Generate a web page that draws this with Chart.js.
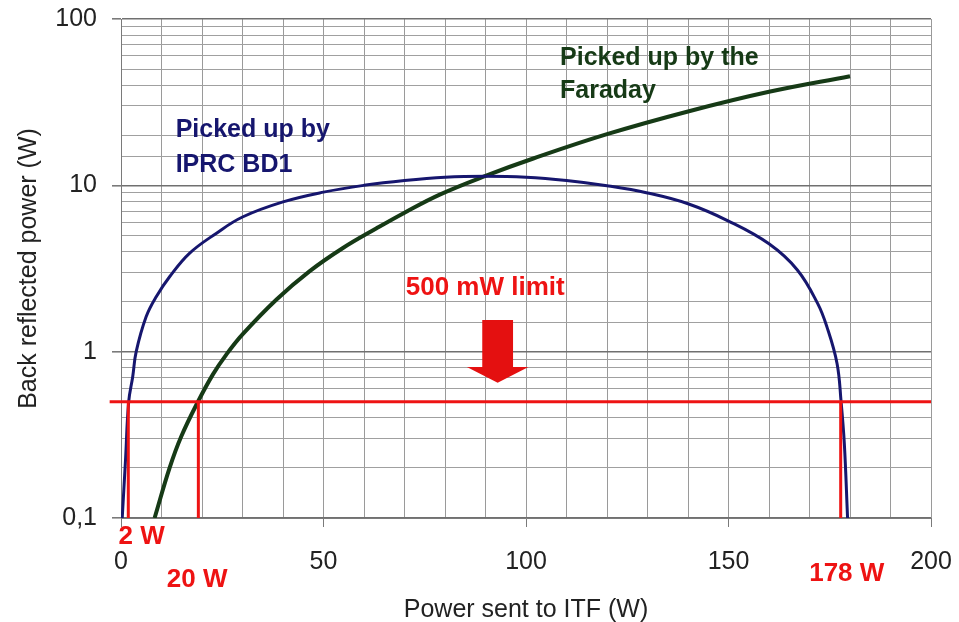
<!DOCTYPE html>
<html><head><meta charset="utf-8">
<script src="https://cdn.jsdelivr.net/npm/chart.js@4.4.1/dist/chart.umd.min.js"></script>
<style>html,body{margin:0;padding:0;background:#fff}#wrap{width:959px;height:622px}</style>
</head><body><div id="wrap"><canvas id="c" width="959" height="622"></canvas></div>
<script>
// ---- data ----
const bd1X = [0.3, 1.1, 1.9, 2.9, 3.75, 6.2, 8.7, 12, 16.9, 23.5, 30, 40, 50, 60, 70, 80, 90, 100, 110, 120, 130, 140, 150, 160, 167, 172, 174.3, 176.8, 177.8, 178.6, 179.4];
const bd1Y = [0.1, 0.22, 0.5, 0.71, 1.0, 1.62, 2.14, 2.82, 3.9, 5.14, 6.45, 7.95, 9.1, 10.0, 10.7, 11.2, 11.35, 11.2, 10.7, 9.95, 9.0, 7.75, 6.1, 4.45, 3.1, 1.95, 1.41, 0.85, 0.5, 0.28, 0.1];
const farX = [8.3, 12, 14.9, 19, 22.7, 26, 30, 38.4, 46.6, 54.8, 63, 70, 78.7, 90, 101.8, 120, 140, 160, 180];
const farY = [0.1, 0.2, 0.31, 0.5, 0.73, 0.96, 1.27, 2.06, 3.05, 4.2, 5.5, 6.85, 8.8, 11.4, 14.5, 20.3, 27.8, 36.5, 45.3];
const limitValue = 0.5;
const limitX = [-2.8, 200];
const cutoffX = [1.8, 19.1, 177.7];
const cutoffLabels = ['2 W', '20 W', '178 W'];
const xTickValues = [0, 50, 100, 150, 200];
const yTickValues = [0.1, 1, 10, 100];
const yTickLabels = ['0,1', '1', '10', '100'];
const seriesNames = ['Picked up by IPRC BD1', 'Picked up by the Faraday'];

const RED = '#ee1313', NAVY = '#16166e', GREEN = '#163a16';
const pts = (xs, ys) => xs.map((v, i) => ({x: v, y: ys[i]}));
const isDecade = v => yTickValues.some(t => Math.abs(v - t) < 1e-9 * Math.max(1, t));

const datasets = [];
datasets.push({label: '500 mW limit', data: limitX.map(v => ({x: v, y: limitValue})), borderColor: RED, borderWidth: 3, clip: false});
cutoffX.forEach((c, i) => datasets.push({label: cutoffLabels[i], data: [{x: c, y: yTickValues[0]}, {x: c, y: limitValue}], borderColor: RED, borderWidth: 3}));
datasets.push({label: seriesNames[0], data: pts(bd1X, bd1Y), borderColor: NAVY, borderWidth: 3, tension: 0.4});
datasets.push({label: seriesNames[1], data: pts(farX, farY), borderColor: GREEN, borderWidth: 4, tension: 0.4});
datasets.forEach(d => { d.showLine = true; d.pointRadius = 0; d.fill = false; });

const annot = {
  id: 'annot',
  afterDatasetsDraw(chart) {
    const {ctx, scales: {x, y}, chartArea} = chart;
    ctx.save();
    const a = {tip: 93, tipY: 0.65, topY: 1.55, headY: 0.81, shaft: 3.8, head: 7.6};
    const X = v => x.getPixelForValue(v), Y = v => y.getPixelForValue(v);
    ctx.beginPath();
    ctx.moveTo(X(a.tip - a.shaft), Y(a.topY));
    ctx.lineTo(X(a.tip + a.shaft), Y(a.topY));
    ctx.lineTo(X(a.tip + a.shaft), Y(a.headY));
    ctx.lineTo(X(a.tip + a.head), Y(a.headY));
    ctx.lineTo(X(a.tip), Y(a.tipY));
    ctx.lineTo(X(a.tip - a.head), Y(a.headY));
    ctx.lineTo(X(a.tip - a.shaft), Y(a.headY));
    ctx.closePath();
    ctx.fillStyle = '#e41010';
    ctx.fill();

    ctx.textBaseline = 'alphabetic';
    ctx.textAlign = 'left';
    ctx.font = 'bold 25px "Liberation Sans", Arial, sans-serif';
    ctx.fillStyle = NAVY;
    ctx.fillText('Picked up by', X(13.5), Y(19.6));
    ctx.fillText('IPRC BD1', X(13.5), Y(12.05));
    ctx.fillStyle = GREEN;
    ctx.fillText('Picked up by the', X(108.4), Y(52.7));
    ctx.fillText('Faraday', X(108.4), Y(33.3));
    ctx.font = 'bold 26px "Liberation Sans", Arial, sans-serif';
    ctx.fillStyle = RED;
    ctx.fillText('500 mW limit', X(70.3), Y(2.19));
    ctx.textAlign = 'center';
    const lblX = [5.1, 18.8, 179.2], lblDy = [25.5, 68.5, 63];
    cutoffLabels.forEach((t, i) => ctx.fillText(t, X(lblX[i]), chartArea.bottom + lblDy[i]));
    ctx.restore();
  }
};

new Chart(document.getElementById('c'), {
  type: 'scatter',
  data: {datasets},
  plugins: [annot],
  options: {
    responsive: false, animation: false, devicePixelRatio: 1,
    layout: {padding: {left: 0, top: 19, right: 28, bottom: 0}},
    plugins: {legend: {display: false}, tooltip: {enabled: false}},
    scales: {
      x: {
        type: 'linear', min: 0, max: 200,
        afterFit: s => { s.height = 104; s.paddingLeft = 0; s.paddingRight = 0; },
        border: {color: '#7a7a7a', width: 1},
        grid: {color: '#9a9a9a', lineWidth: 1, tickLength: 9,
          tickColor: c => (c.tick && c.tick.value % 50 === 0) ? '#7a7a7a' : 'rgba(0,0,0,0)'},
        ticks: {stepSize: 10, autoSkip: false, maxRotation: 0, padding: 20, color: '#222',
          font: {family: '"Liberation Sans", Arial, sans-serif', size: 25},
          callback: v => xTickValues.includes(v) ? String(v) : ''},
        title: {display: true, text: 'Power sent to ITF (W)', color: '#222', padding: {top: 0, bottom: -3},
          font: {family: '"Liberation Sans", Arial, sans-serif', size: 25}}
      },
      y: {
        type: 'logarithmic', min: 0.1, max: 100,
        afterFit: s => { s.width = 121; s.paddingTop = 0; s.paddingBottom = 0; },
        border: {color: '#7a7a7a', width: 1},
        grid: {color: c => isDecade(c.tick.value) ? '#707070' : '#a0a0a0',
          lineWidth: c => isDecade(c.tick.value) ? 1.6 : 1, tickLength: 9,
          tickColor: c => isDecade(c.tick.value) ? '#7a7a7a' : 'rgba(0,0,0,0)'},
        ticks: {autoSkip: false, padding: 15, color: '#222',
          font: {family: '"Liberation Sans", Arial, sans-serif', size: 25},
          callback: v => { const i = yTickValues.findIndex(t => Math.abs(v - t) < 1e-9 * Math.max(1, t)); return i >= 0 ? yTickLabels[i] : ''; }},
        title: {display: true, text: 'Back reflected power (W)', color: '#222', padding: {top: 14, bottom: 0},
          font: {family: '"Liberation Sans", Arial, sans-serif', size: 25}}
      }
    }
  }
});
</script></body></html>
